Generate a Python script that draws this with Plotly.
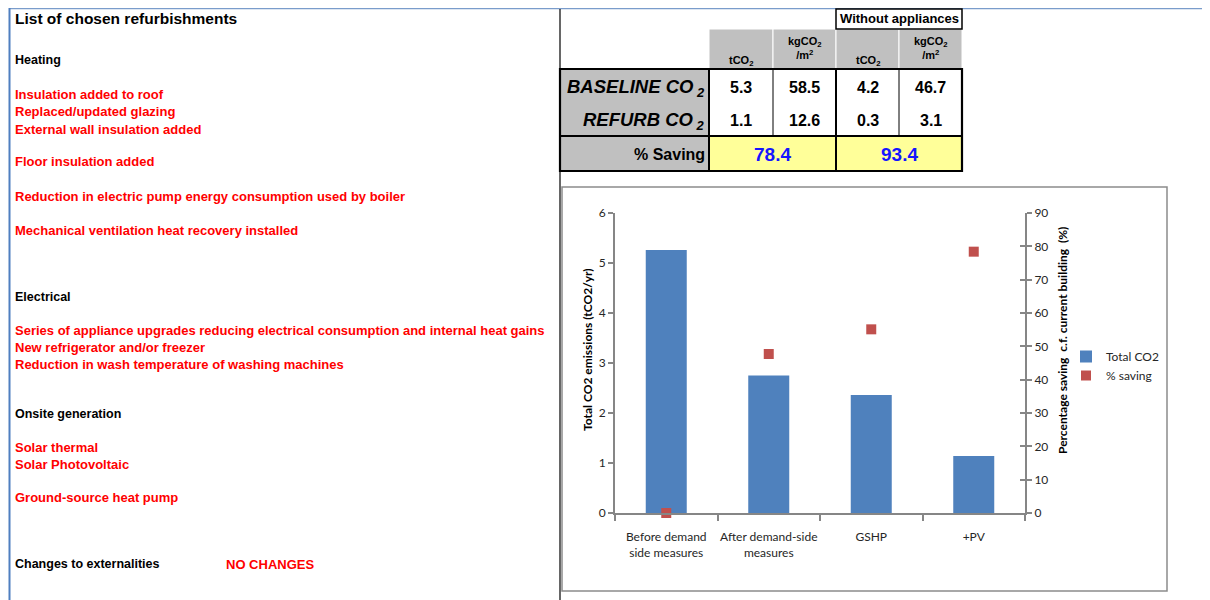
import plotly.graph_objects as go

# ---------------- data ----------------
categories = ["Before demand<br>side measures", "After demand-side<br>measures", "GSHP", "+PV"]
total_co2 = [5.26, 2.75, 2.36, 1.14]          # tCO2/yr (left axis)
pct_saving = [0.0, 47.7, 55.1, 78.4]          # % (right axis)

table_units = ["tCO<sub>2</sub>", "kgCO<sub>2</sub><br>/m<sup>2</sup>", "tCO<sub>2</sub>", "kgCO<sub>2</sub><br>/m<sup>2</sup>"]
baseline_vals = ["5.3", "58.5", "4.2", "46.7"]
refurb_vals = ["1.1", "12.6", "0.3", "3.1"]
saving_vals = ["78.4", "93.4"]

title_text = "List of chosen refurbishments"
left_texts = [
    "Heating",
    "Insulation added to roof",
    "Replaced/updated glazing",
    "External wall insulation added",
    "Floor insulation added",
    "Reduction in electric pump energy consumption used by boiler",
    "Mechanical ventilation heat recovery installed",
    "Electrical",
    "Series of appliance upgrades reducing electrical consumption and internal heat gains",
    "New refrigerator and/or freezer",
    "Reduction in wash temperature of washing machines",
    "Onsite generation",
    "Solar thermal",
    "Solar Photovoltaic",
    "Ground-source heat pump",
    "Changes to externalities",
]
left_is_heading = [True, False, False, False, False, False, False, True, False, False, False,
                   True, False, False, False, True]
left_rows_px = [60, 95, 112, 129, 162, 196, 230, 297, 330, 347, 364, 414, 447, 464, 497, 564]

y1_title = "Total CO2 emissions (tCO2/yr)"
y2_title = "Percentage saving  c.f. current building  (%)"

# ---------------- layout helpers ----------------
OFF = 8                      # page body margin
WF, HF = 1202, 592           # figure size so that it reaches the window edges
def X(px):
    return (px - OFF) / WF
def Y(py):
    return 1 - (py - OFF) / HF

SHEET_FONT = "Arial, Liberation Sans, sans-serif"
CHART_FONT = "Lato, Carlito, sans-serif"
BLUE = "#4F81BD"
RED = "#C0504D"
AXIS = "#868686"

fig = go.Figure()
fig.add_trace(go.Bar(
    x=categories, y=total_co2, name="Total CO2",
    marker=dict(color=BLUE, line=dict(width=0)),
    yaxis="y", xaxis="x",
))
fig.add_trace(go.Scatter(
    x=categories, y=pct_saving, name="% saving", mode="markers",
    marker=dict(symbol="square", size=10, color=RED),
    yaxis="y2", xaxis="x", cliponaxis=False,
))

annotations = []
shapes = []

# chart frame
shapes.append(dict(type="rect", xref="paper", yref="paper", x0=X(562), x1=X(1167), y0=Y(591), y1=Y(187),
                   line=dict(color="#8C8C8C", width=1.5), fillcolor="white", layer="below"))
# sheet borders
shapes.append(dict(type="line", xref="paper", yref="paper", x0=X(9), x1=X(1210), y0=Y(8.5), y1=Y(8.5),
                   line=dict(color="#7A9CCB", width=1.5)))
shapes.append(dict(type="line", xref="paper", yref="paper", x0=X(9.5), x1=X(9.5), y0=Y(8), y1=Y(600),
                   line=dict(color="#4F7FC0", width=2)))
shapes.append(dict(type="line", xref="paper", yref="paper", x0=X(560), x1=X(560), y0=Y(9), y1=Y(600),
                   line=dict(color="black", width=1.2)))

# ---------- table ----------
col_edges = [709, 773, 836, 899, 962]
for i in range(4):
    shapes.append(dict(type="rect", xref="paper", yref="paper", x0=X(col_edges[i]), x1=X(col_edges[i + 1]),
                       y0=Y(69), y1=Y(29), fillcolor="#C0C0C0", line=dict(color="white", width=1), layer="below"))
shapes.append(dict(type="rect", xref="paper", yref="paper", x0=X(836), x1=X(962), y0=Y(29), y1=Y(9),
                   fillcolor="white", line=dict(color="black", width=1.5)))
shapes.append(dict(type="rect", xref="paper", yref="paper", x0=X(560), x1=X(709), y0=Y(171), y1=Y(69),
                   fillcolor="#C0C0C0", line=dict(width=0), layer="below"))
for x0, x1 in [(709, 836), (836, 962)]:
    shapes.append(dict(type="rect", xref="paper", yref="paper", x0=X(x0), x1=X(x1), y0=Y(171), y1=Y(136),
                       fillcolor="#FFFF99", line=dict(width=0), layer="below"))
for xv in [773, 899]:
    shapes.append(dict(type="line", xref="paper", yref="paper", x0=X(xv), x1=X(xv), y0=Y(136), y1=Y(69),
                       line=dict(color="black", width=1)))
for xv in [709, 836]:
    shapes.append(dict(type="line", xref="paper", yref="paper", x0=X(xv), x1=X(xv), y0=Y(171), y1=Y(69),
                       line=dict(color="black", width=2)))
shapes.append(dict(type="line", xref="paper", yref="paper", x0=X(560), x1=X(962), y0=Y(136), y1=Y(136),
                   line=dict(color="black", width=2)))
shapes.append(dict(type="rect", xref="paper", yref="paper", x0=X(560), x1=X(962), y0=Y(171), y1=Y(69),
                   line=dict(color="black", width=2.2)))

def ann(text, xp, yp, size, color="black", anchor="center", family=SHEET_FONT, angle=0):
    annotations.append(dict(text=text, x=X(xp), y=Y(yp), xref="paper", yref="paper", showarrow=False,
                            xanchor=anchor, yanchor="middle", textangle=angle,
                            font=dict(family=family, size=size, color=color)))

ann("<b>Without appliances</b>", 899, 19, 13)
centers = [(col_edges[i] + col_edges[i + 1]) / 2 for i in range(4)]
for i, u in enumerate(table_units):
    two_line = "<br>" in u
    ann("<b>" + u + "</b>", centers[i], 48 if two_line else 61, 11)
for i in range(4):
    ann("<b>" + baseline_vals[i] + "</b>", centers[i], 87, 16)
    ann("<b>" + refurb_vals[i] + "</b>", centers[i], 120, 16)
for i, xv in enumerate([772.5, 899]):
    ann("<b>" + saving_vals[i] + "</b>", xv, 154, 19, color="#1515FF")
ann("<b><i>BASELINE CO<sub> 2</sub></i></b>", 707, 88, 18.5, anchor="right")
ann("<b><i>REFURB CO<sub> 2</sub></i></b>", 707, 121, 18.5, anchor="right")
ann("<b>% Saving</b>", 707, 154, 16, anchor="right")

# ---------- left text ----------
ann("<b>" + title_text + "</b>", 13, 19, 15.5, anchor="left")
for txt, hd, py in zip(left_texts, left_is_heading, left_rows_px):
    ann("<b>" + txt + "</b>", 13, py, 12.5 if hd else 13, color="black" if hd else "#FF0000", anchor="left")
ann("<b>NO CHANGES</b>", 224, 564, 13, color="#FF0000", anchor="left")

# ---------- axis titles (placed like the original) ----------
ann("<b>" + y1_title + "</b>", 587, 350, 12, family=CHART_FONT, angle=-90)
ann("<b>" + y2_title + "</b>", 1062, 341, 12, family=CHART_FONT, angle=-90)

tickfont = dict(family=CHART_FONT, size=12, color="#262626")
fig.update_layout(
    width=WF, height=HF,
    margin=dict(l=0, r=0, t=0, b=0, pad=0, autoexpand=False),
    paper_bgcolor="white", plot_bgcolor="rgba(0,0,0,0)",
    font=dict(family=CHART_FONT, size=12, color="#262626"),
    bargap=0.6,
    showlegend=True,
    legend=dict(x=X(1066), y=Y(342), xanchor="left", yanchor="top", bgcolor="rgba(0,0,0,0)",
                font=dict(family=CHART_FONT, size=12, color="#262626"), itemwidth=30,
                tracegroupgap=0),
    xaxis=dict(domain=[X(615), X(1025)], anchor="y", showline=True, linecolor=AXIS, linewidth=2,
               ticks="outside", tickson="boundaries", ticklen=6, tickcolor=AXIS, tickwidth=1.5,
               tickangle=0, automargin=False, ticklabelstandoff=12,
               showgrid=False, zeroline=False, tickfont=tickfont),
    yaxis=dict(domain=[Y(513), Y(213)], anchor="x", range=[0, 6], dtick=1, showline=True, linecolor=AXIS,
               linewidth=2, ticks="outside", ticklen=5, tickcolor=AXIS, tickwidth=1.5, showgrid=False,
               zeroline=False, tickfont=tickfont, automargin=False),
    yaxis2=dict(overlaying="y", anchor="x", side="right", range=[0, 90], dtick=10, showline=True,
                linecolor=AXIS, linewidth=2, ticks="outside", ticklen=5, tickcolor=AXIS, tickwidth=1.5,
                showgrid=False, zeroline=False, tickfont=tickfont, automargin=False),
    yaxis3=dict(overlaying="y", anchor="x", side="right", range=[0, 90], dtick=10, showline=False,
                ticks="inside", ticklen=5, tickcolor=AXIS, tickwidth=1.5, showticklabels=False,
                showgrid=False, zeroline=False, automargin=False),
    shapes=shapes,
    annotations=annotations,
)
fig.add_trace(go.Scatter(x=categories, y=pct_saving, yaxis="y3", mode="markers",
                         marker=dict(opacity=0), showlegend=False, hoverinfo="skip"))

fig.write_html("out.html")
